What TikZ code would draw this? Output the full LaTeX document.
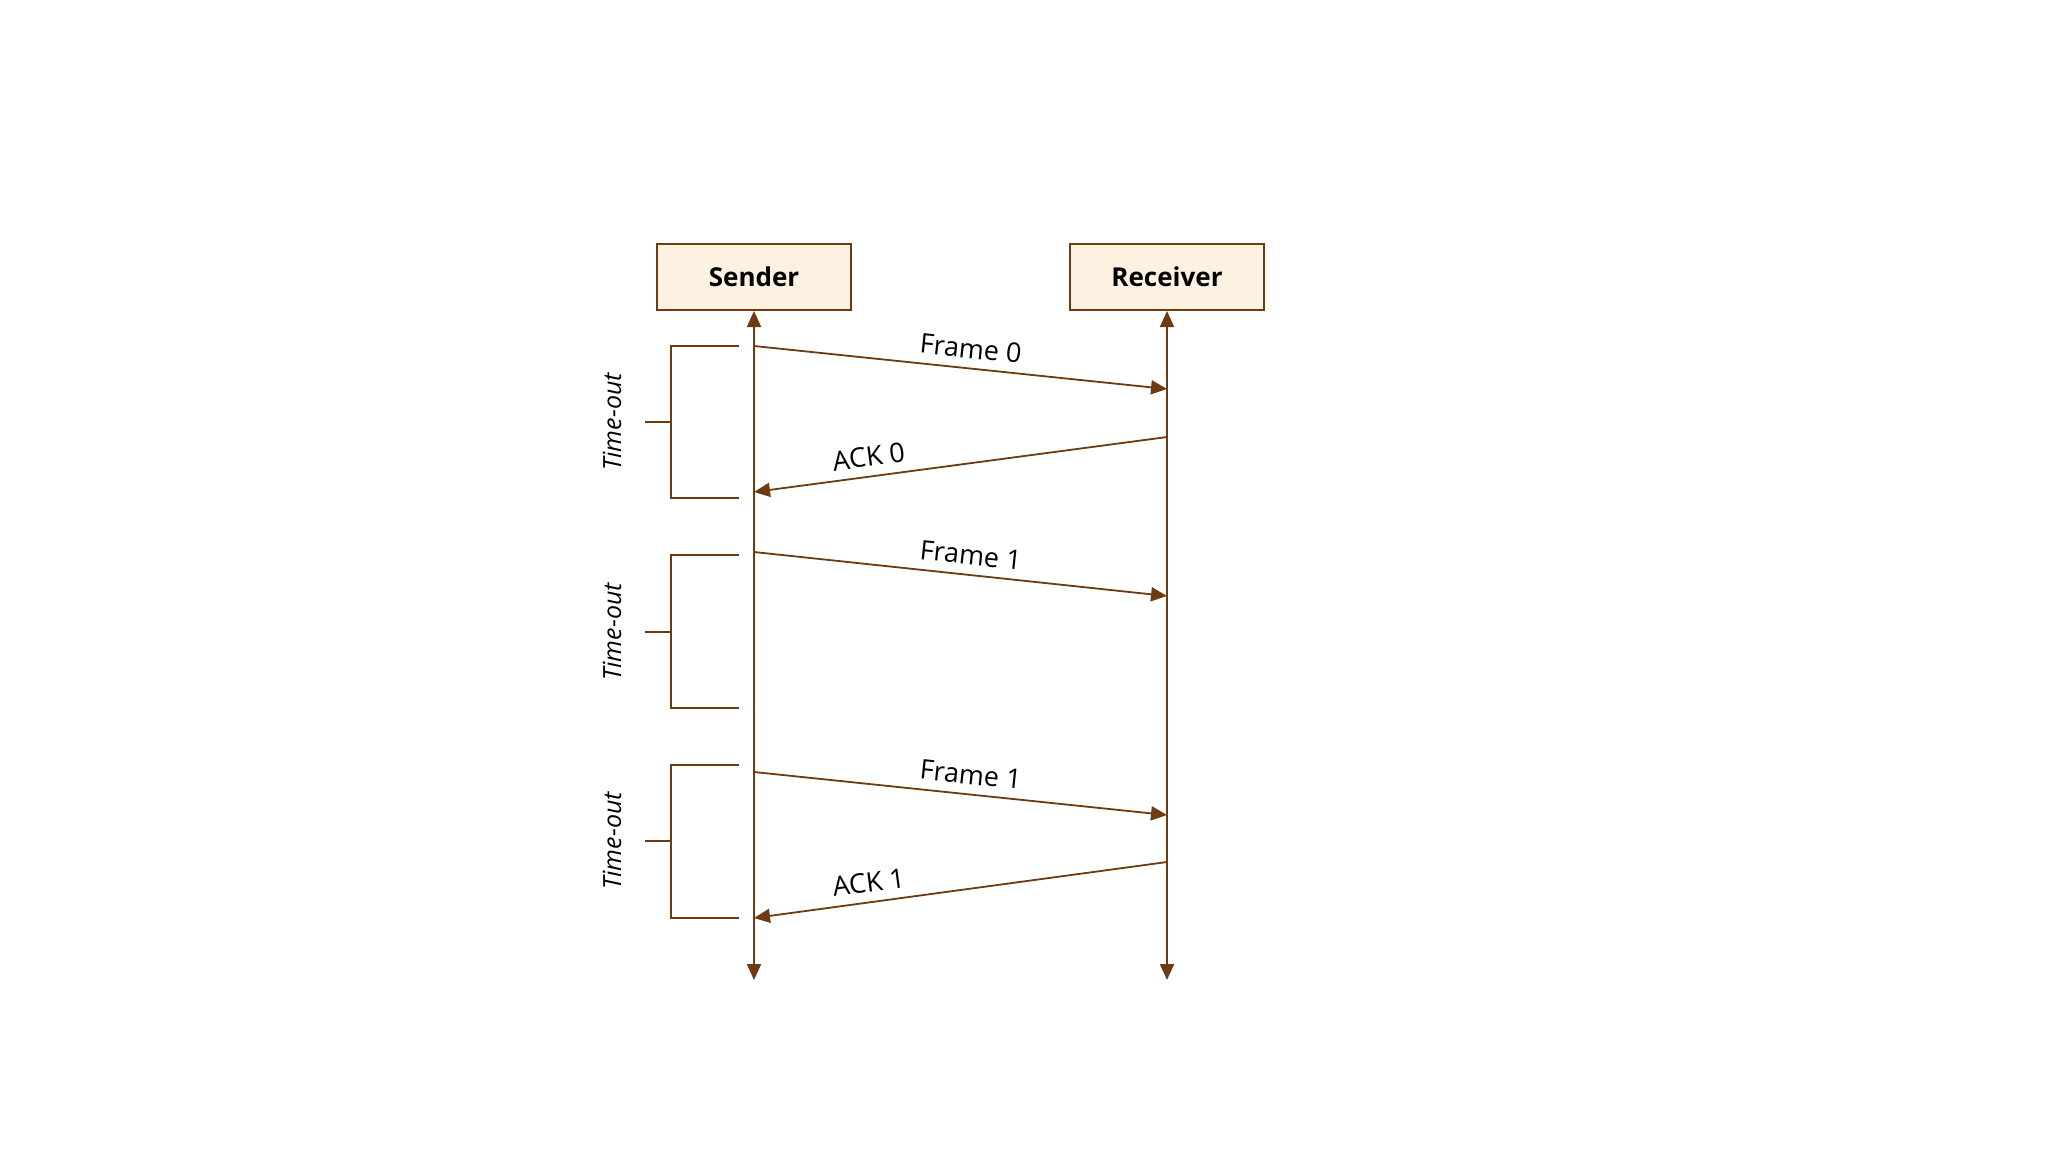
\documentclass[tikz,border=0pt]{standalone}
\usepackage{fontspec}
\setmainfont{Open Sans}
\usetikzlibrary{arrows.meta}
\definecolor{lnbrown}{RGB}{110,58,18}
\definecolor{boxfill}{RGB}{253,242,226}
\begin{document}
\begin{tikzpicture}[x=0.5pt,y=-0.5pt,
  actor/.style={draw=lnbrown, line width=1pt, fill=boxfill, minimum width=97pt, minimum height=33pt, font=\fontsize{13}{16}\selectfont\bfseries, inner sep=0pt},
  life/.style={draw=lnbrown, line width=1pt, {Triangle[length=8pt,width=7pt]}-{Triangle[length=8pt,width=7pt]}},
  msg/.style={draw=lnbrown, line width=0.9pt, -{Triangle[length=8pt,width=7pt]}},
  msglabel/.style={sloped, above, font=\fontsize{13.5}{16}\selectfont, inner sep=4.5pt},
  bracket/.style={draw=lnbrown, line width=0.9pt},
  tolabel/.style={rotate=90, font=\fontsize{12.5}{14}\selectfont\itshape, inner sep=0pt}
]
\useasboundingbox (0,0) rectangle (2048,1152);
\fill[white] (0,0) rectangle (2048,1152);

% actors
\node[actor] (s) at (754,277) {Sender};
\node[actor] (r) at (1167,277) {Receiver};

% lifelines
\coordinate (sb) at (754,980);
\coordinate (rb) at (1167,980);
\draw[life] (s.south) -- (sb);
\draw[life] (r.south) -- (rb);

% message end points
\coordinate (s1) at (754,346);
\coordinate (r1) at (1167,389);
\coordinate (r2) at (1167,437);
\coordinate (s2) at (754,492);
\coordinate (s3) at (754,552);
\coordinate (r3) at (1167,596);
\coordinate (s4) at (754,772);
\coordinate (r4) at (1167,815);
\coordinate (r5) at (1167,862);
\coordinate (s5) at (754,918);

\draw[msg] (s1) -- node[msglabel,pos=0.52] {Frame 0} (r1);
\draw[msg] (r2) -- node[msglabel,pos=0.716] {ACK 0} (s2);
\draw[msg] (s3) -- node[msglabel,pos=0.52] {Frame 1} (r3);
\draw[msg] (s4) -- node[msglabel,pos=0.52] {Frame 1} (r4);
\draw[msg] (r5) -- node[msglabel,pos=0.716] {ACK 1} (s5);

% time-out brackets
\foreach \t/\b/\m in {346/498/422, 555/708/632, 765/918/841}{
  \draw[bracket] (739,\t) -- (671,\t) -- (671,\b) -- (739,\b);
  \draw[bracket] (645,\m) -- (671,\m);
}
\node[tolabel] (to1) at (612,422) {Time-out};
\node[tolabel] (to2) at (612,632) {Time-out};
\node[tolabel] (to3) at (612,841) {Time-out};
\end{tikzpicture}
\end{document}
